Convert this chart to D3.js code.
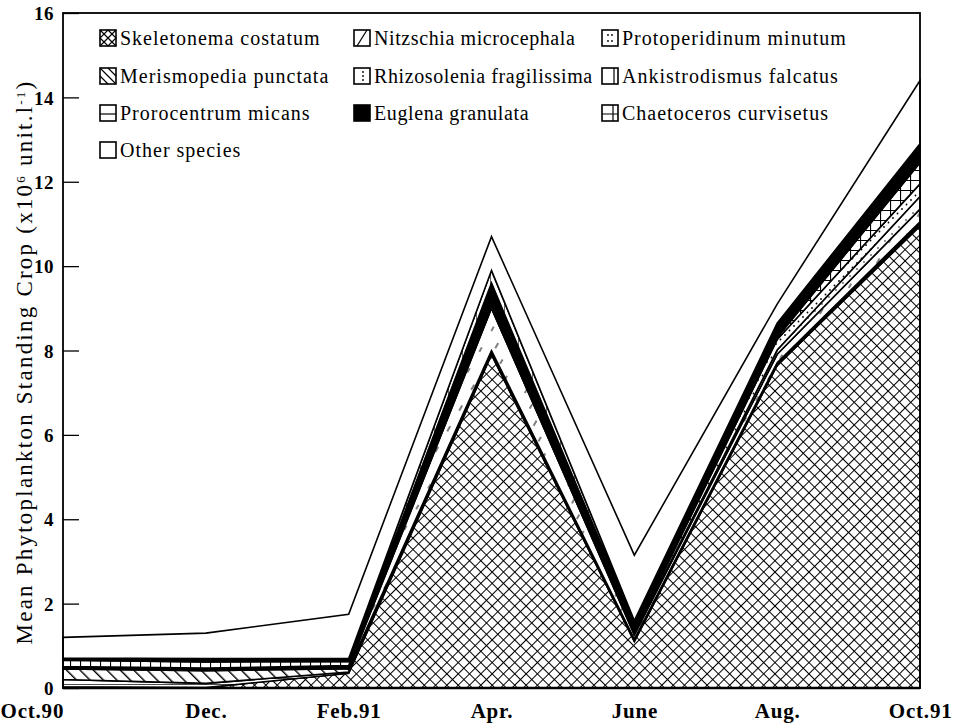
<!DOCTYPE html>
<html><head><meta charset="utf-8">
<script src="https://cdn.jsdelivr.net/npm/d3@7/dist/d3.min.js"></script>
<style>body{margin:0;background:#fff}svg{display:block}</style>
</head><body>
<svg id="chart" width="955" height="728"></svg>
<script>
// ---- data ----
const months = ["Oct.90","Dec.","Feb.91","Apr.","June","Aug.","Oct.91"];
const skeletonema    = [0.03, 0.01, 0.35, 7.90, 1.10, 7.65, 10.95];
const prorocentrum   = [0.17, 0.10, 0.03, 0.05, 0.03, 0.03, 0.05];
const merismopedia   = [0.25, 0.30, 0.08, 0.05, 0.03, 0.03, 0.05];
const nitzschia      = [0.02, 0.02, 0.03, 1.00, 0.10, 0.20, 0.30];
const rhizosolenia   = [0.02, 0.02, 0.02, 0.10, 0.03, 0.10, 0.30];
const protoperidinum = [0.02, 0.02, 0.02, 0.10, 0.05, 0.25, 0.30];
const chaetoceros    = [0.15, 0.15, 0.10, 0.10, 0.05, 0.05, 0.50];
const euglena        = [0.03, 0.05, 0.04, 0.30, 0.16, 0.30, 0.40];
const ankistrodismus = [0.02, 0.03, 0.03, 0.30, 0.05, 0.04, 0.05];
const other          = [0.49, 0.60, 1.05, 0.80, 1.55, 0.45, 1.50];
const yTicks = [0,2,4,6,8,10,12,14,16];

const species = [
  {key:"skel",  name:"Skeletonema costatum",     values:skeletonema,    pat:"p-cross"},
  {key:"proro", name:"Prorocentrum micans",      values:prorocentrum,   pat:"p-hor"},
  {key:"meris", name:"Merismopedia punctata",    values:merismopedia,   pat:"p-back"},
  {key:"nitz",  name:"Nitzschia microcephala",   values:nitzschia,      pat:"p-fwd"},
  {key:"rhizo", name:"Rhizosolenia fragilissima",values:rhizosolenia,   pat:"p-dots2"},
  {key:"proto", name:"Protoperidinum minutum",   values:protoperidinum, pat:"p-dots"},
  {key:"chaet", name:"Chaetoceros curvisetus",   values:chaetoceros,    pat:"p-grid"},
  {key:"eugl",  name:"Euglena granulata",        values:euglena,        pat:"solid"},
  {key:"ankis", name:"Ankistrodismus falcatus",  values:ankistrodismus, pat:"p-vert"},
  {key:"other", name:"Other species",            values:other,          pat:"none"}
];
// legend layout order (column-major as in the figure)
const legendCols = [
  ["skel","meris","proro","other"],
  ["nitz","rhizo","eugl"],
  ["proto","ankis","chaet"]
];

const table = months.map((m,i)=>{const o={month:m}; species.forEach(s=>o[s.key]=s.values[i]); return o;});

const svg = d3.select("#chart");
const L=63, R=920, T=13, B=688;
const x = d3.scalePoint().domain(months).range([L,R]);
const y = d3.scaleLinear().domain([0,16]).range([B,T]);
const SERIF = "Liberation Serif, 'Times New Roman', serif";

// ---- patterns ----
const defs = svg.append("defs");
function pat(id,size,draw,rot){
  const p=defs.append("pattern").attr("id",id).attr("patternUnits","userSpaceOnUse")
    .attr("width",size).attr("height",size);
  if(rot) p.attr("patternTransform","rotate("+rot+")");
  p.append("rect").attr("width",size).attr("height",size).attr("fill","#fff");
  draw(p,size);
}
pat("p-cross",8,(p,s)=>{
  p.append("path").attr("d",`M0,0H${s}M0,0V${s}`).attr("stroke","#000").attr("stroke-width",2);
},45);
pat("p-back",9.5,(p,s)=>{
  p.append("path").attr("d",`M0,0V${s}`).attr("stroke","#000").attr("stroke-width",2.8);
},-45);
pat("p-fwd",24,(p,s)=>{
  p.append("path").attr("d",`M3,0V6M15,12V17`).attr("stroke","#000").attr("stroke-width",1);
},30);
pat("p-hor",6,(p,s)=>{
  p.append("path").attr("d",`M0,0H${s}`).attr("stroke","#000").attr("stroke-width",1.4);
});
pat("p-dots",9,(p,s)=>{
  p.append("circle").attr("cx",2).attr("cy",2).attr("r",0.9).attr("fill","#000");
  p.append("circle").attr("cx",6.5).attr("cy",6.5).attr("r",0.9).attr("fill","#000");
});
pat("p-dots2",14,(p,s)=>{
  p.append("circle").attr("cx",3).attr("cy",3).attr("r",0.8).attr("fill","#000");
  p.append("circle").attr("cx",10).attr("cy",10).attr("r",0.8).attr("fill","#000");
});
pat("p-grid",10,(p,s)=>{
  p.append("path").attr("d",`M0,0H${s}M0,0V${s}`).attr("stroke","#000").attr("stroke-width",2.2);
});
pat("p-vert",14,(p,s)=>{
  p.append("path").attr("d",`M0,0V${s}`).attr("stroke","#000").attr("stroke-width",1.2);
});
function fillFor(s){ return s.pat==="solid"?"#000":(s.pat==="none"?"#fff":`url(#${s.pat})`); }

// ---- stacked areas ----
const stack = d3.stack().keys(species.map(s=>s.key));
const series = stack(table);
const area = d3.area().x(d=>x(d.data.month)).y0(d=>y(d[0])).y1(d=>y(d[1])).curve(d3.curveLinear);
const byKey = Object.fromEntries(species.map(s=>[s.key,s]));
svg.append("g").selectAll("path").data(series).join("path")
  .attr("d",area)
  .attr("fill",d=>fillFor(byKey[d.key]))
  .attr("stroke","#000").attr("stroke-width",1.6).attr("stroke-linejoin","miter");

// ---- frame & axes ----
svg.append("rect").attr("x",L).attr("y",T).attr("width",R-L).attr("height",B-T)
  .attr("fill","none").attr("stroke","#000").attr("stroke-width",1.8);
svg.append("line").attr("x1",L).attr("x2",R).attr("y1",B).attr("y2",B).attr("stroke","#000").attr("stroke-width",2.5);

const yAxis = d3.axisLeft(y).tickValues(yTicks).tickSize(-16).tickPadding(9).tickFormat(d3.format("d"));
const gy = svg.append("g").attr("transform",`translate(${L},0)`).call(yAxis);
gy.select(".domain").remove();
gy.selectAll(".tick line").attr("stroke","#000").attr("stroke-width",1.3);
gy.selectAll(".tick text").attr("font-family",SERIF).attr("font-size",19)
  .attr("font-weight","bold").attr("fill","#000").attr("dy","0.35em").attr("letter-spacing","0.5px");

const xAxis = d3.axisBottom(x).tickSize(0).tickPadding(15);
const gx = svg.append("g").attr("transform",`translate(0,${B})`).call(xAxis);
gx.select(".domain").remove();
gx.selectAll(".tick text").attr("font-family",SERIF).attr("font-size",21)
  .attr("font-weight","bold").attr("fill","#000").attr("letter-spacing","0.8px")
  .attr("text-anchor",(d,i)=>i===0?"start":(i===months.length-1?"end":"middle"))
  .attr("dx",(d,i)=>i===0?-63:(i===months.length-1?32:0));

// y title
const title = svg.append("text")
  .attr("transform",`translate(32,362) rotate(-90)`)
  .attr("text-anchor","middle")
  .attr("font-family",SERIF).attr("font-size",23)
  .attr("fill","#000")
  .text("Mean Phytoplankton Standing Crop (x10");
title.append("tspan").attr("baseline-shift","super").attr("font-size",13).text("6");
title.append("tspan").text(" unit.l");
title.append("tspan").attr("baseline-shift","super").attr("font-size",13).text("-1");
title.append("tspan").text(")");
{
  const len = title.node().getComputedTextLength();
  const n = title.text().length;
  const target = 565;
  title.attr("letter-spacing", Math.max(0,(target-len)/n)+"px");
}

// ---- legend ----
const icons = {
  skel:"M0,0L16,16M16,0L0,16M8,0L16,8L8,16L0,8Z",
  meris:"M0,0L16,16M0,8L8,16M8,0L16,8",
  nitz:"M3,16L13,0",
  proro:"M0,9H16",
  chaet:"M0,9H16M11,0V16",
  ankis:"M12,0V16"
};
const iconDots = {
  proto:[[6,5],[10,5],[6,11],[10,11]],
  rhizo:[[9,4],[9,8],[9,12]]
};
const colX = [100, 354, 602];
const colSpacing = [1, 0.6, 1];
const rowY = [38, 76, 113, 150];
const lg = svg.append("g");
legendCols.forEach((col,ci)=>col.forEach((k,ri)=>{
  const s = byKey[k];
  const g = lg.append("g").attr("transform",`translate(${colX[ci]},${rowY[ri]-8})`);
  g.append("rect").attr("x",0).attr("y",0).attr("width",16).attr("height",16)
    .attr("fill",k==="eugl"?"#000":"#fff").attr("stroke","#000").attr("stroke-width",1.6);
  if(icons[k]) g.append("path").attr("d",icons[k]).attr("fill","none").attr("stroke","#000").attr("stroke-width",1.2);
  if(iconDots[k]) iconDots[k].forEach(([cx,cy])=>g.append("circle").attr("cx",cx).attr("cy",cy).attr("r",0.9).attr("fill","#000"));
  g.append("text").attr("x",20).attr("y",8).attr("dy","0.35em")
    .attr("font-family",SERIF).attr("font-size",20).attr("letter-spacing",colSpacing[ci]+"px")
    .attr("fill","#000").text(s.name);
}));
</script>
</body></html>
